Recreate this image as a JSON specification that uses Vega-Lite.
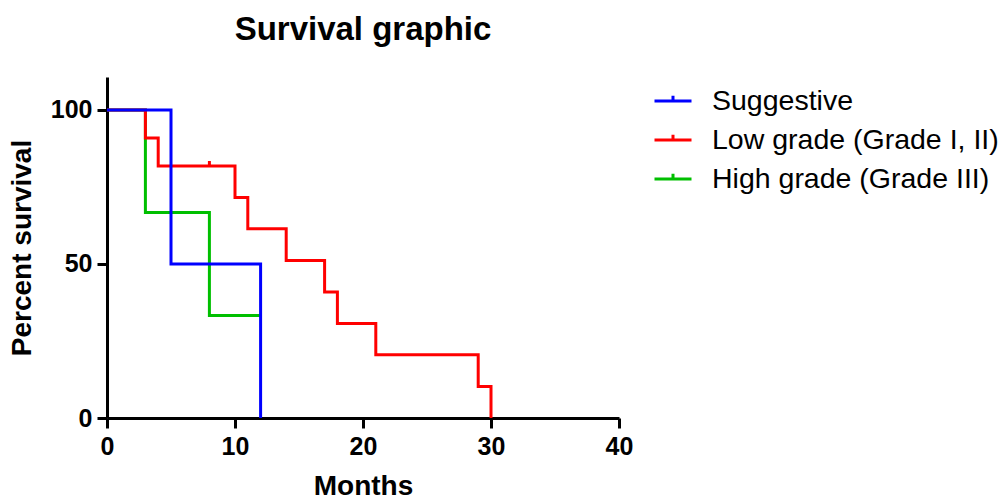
{
  "$schema": "https://vega.github.io/schema/vega-lite/v6.json",
  "width": 512,
  "height": 341,
  "autosize": {"type": "none"},
  "padding": {"left": 107, "top": 77, "right": 381, "bottom": 83},
  "background": "white",
  "config": {
    "font": "Liberation Sans",
    "view": {"stroke": null},
    "axis": {
      "domainColor": "black",
      "domainWidth": 3,
      "tickColor": "black",
      "tickWidth": 3,
      "tickSize": 10,
      "labelFont": "Liberation Sans",
      "labelFontWeight": "bold",
      "labelFontSize": 25,
      "labelColor": "black",
      "labelFlush": false,
      "titleFont": "Liberation Sans",
      "titleFontWeight": "bold",
      "titleFontSize": 28,
      "titleColor": "black",
      "grid": false
    }
  },
  "title": {
    "text": "Survival graphic",
    "font": "Liberation Sans",
    "fontSize": 33,
    "fontWeight": "bold",
    "color": "black",
    "anchor": "middle",
    "offset": 30
  },
  "datasets": {
    "curves": [
      {"group": "High grade (Grade III)", "month": 0, "surv": 100},
      {"group": "High grade (Grade III)", "month": 3, "surv": 66.7},
      {"group": "High grade (Grade III)", "month": 8, "surv": 33.3},
      {"group": "High grade (Grade III)", "month": 12, "surv": 33.3},
      {"group": "Low grade (Grade I, II)", "month": 0, "surv": 100},
      {"group": "Low grade (Grade I, II)", "month": 3, "surv": 90.9},
      {"group": "Low grade (Grade I, II)", "month": 4, "surv": 81.8},
      {"group": "Low grade (Grade I, II)", "month": 10, "surv": 71.6},
      {"group": "Low grade (Grade I, II)", "month": 11, "surv": 61.4},
      {"group": "Low grade (Grade I, II)", "month": 14, "surv": 51.1},
      {"group": "Low grade (Grade I, II)", "month": 17, "surv": 40.9},
      {"group": "Low grade (Grade I, II)", "month": 18, "surv": 30.7},
      {"group": "Low grade (Grade I, II)", "month": 21, "surv": 20.5},
      {"group": "Low grade (Grade I, II)", "month": 29, "surv": 10.2},
      {"group": "Low grade (Grade I, II)", "month": 30, "surv": 0},
      {"group": "Suggestive", "month": 0, "surv": 100},
      {"group": "Suggestive", "month": 5, "surv": 50},
      {"group": "Suggestive", "month": 12, "surv": 0}
    ],
    "censored": [
      {"group": "Low grade (Grade I, II)", "month": 8, "surv": 81.8}
    ]
  },
  "layer": [
    {
      "data": {"name": "curves"},
      "mark": {"type": "line", "interpolate": "step-after", "strokeWidth": 3, "clip": false},
      "encoding": {
        "x": {
          "field": "month", "type": "quantitative",
          "scale": {"domain": [0, 40], "nice": false, "zero": true},
          "axis": {"values": [0, 10, 20, 30, 40], "title": "Months", "labelPadding": 6, "titlePadding": 13}
        },
        "y": {
          "field": "surv", "type": "quantitative",
          "scale": {"domain": [0, 110.7], "nice": false},
          "axis": {"values": [0, 50, 100], "title": "Percent survival", "labelPadding": 5, "titlePadding": 14}
        },
        "color": {
          "field": "group", "type": "nominal",
          "scale": {
            "domain": ["Suggestive", "Low grade (Grade I, II)", "High grade (Grade III)"],
            "range": ["#0000FF", "#FF0000", "#00BF00"]
          },
          "legend": {
            "title": null,
            "orient": "none",
            "legendX": 546,
            "legendY": 4,
            "symbolType": "M-1,0H1M0,0V-0.28",
            "symbolSize": 1369,
            "symbolStrokeWidth": 3,
            "symbolFillColor": "transparent",
            "labelFont": "Liberation Sans",
            "labelFontSize": 28.5,
            "labelColor": "black",
            "labelOffset": 19,
            "labelLimit": 400,
            "rowPadding": 4
          }
        }
      }
    },
    {
      "data": {"name": "censored"},
      "mark": {"type": "point", "shape": "M0,0V-1", "strokeWidth": 3, "size": 100, "filled": false, "opacity": 1},
      "encoding": {
        "x": {"field": "month", "type": "quantitative"},
        "y": {"field": "surv", "type": "quantitative"},
        "color": {"field": "group", "type": "nominal"}
      }
    }
  ]
}
